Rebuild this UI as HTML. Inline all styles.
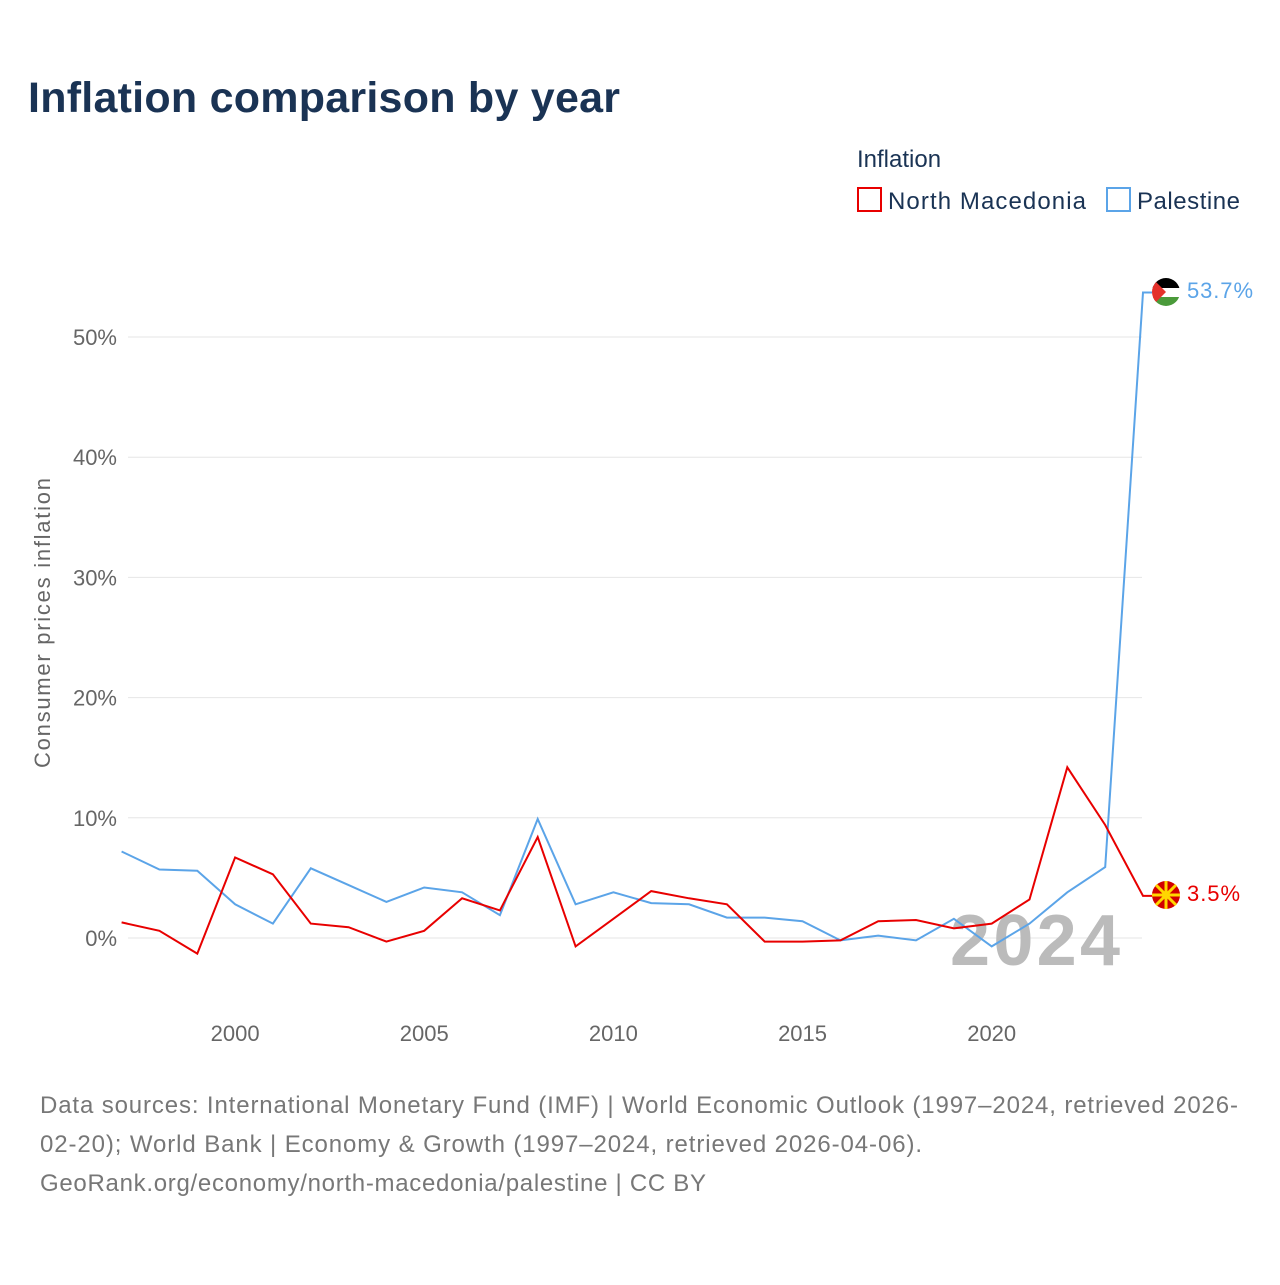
<!DOCTYPE html>
<html><head><meta charset="utf-8"><style>
body{margin:0;background:#fff;font-family:"Liberation Sans",sans-serif;}
svg text{font-family:"Liberation Sans",sans-serif;}
</style></head><body>
<svg width="1280" height="1280" viewBox="0 0 1280 1280">
<text x="28" y="112" font-size="43" font-weight="bold" fill="#1a3354" textLength="592">Inflation comparison by year</text>
<text x="857" y="167" font-size="24" fill="#1a3354">Inflation</text>
<g><rect x="858" y="188" width="23" height="23" fill="none" stroke="#e80000" stroke-width="2"/><text x="888" y="209" font-size="24" fill="#1a3354" textLength="198">North Macedonia</text></g>
<g><rect x="1107" y="188" width="23" height="23" fill="none" stroke="#5ba4e8" stroke-width="2"/><text x="1137" y="209" font-size="24" fill="#1a3354" textLength="103">Palestine</text></g>
<g id="grid"></g><g id="xt"></g>
<text transform="translate(50,623) rotate(-90)" text-anchor="middle" font-size="22" fill="#666" textLength="290">Consumer prices inflation</text>
<text x="1120" y="965" text-anchor="end" font-size="72" font-weight="bold" fill="#bbb" textLength="170">2024</text>
<g id="lines"></g>
<g><clipPath id="c1"><circle cx="1166" cy="292" r="14"/></clipPath><g clip-path="url(#c1)"><rect x="1152" y="278" width="28" height="10" fill="#000"/><rect x="1152" y="288" width="28" height="9" fill="#fff"/><rect x="1152" y="297" width="28" height="10" fill="#4a9a3a"/><polygon points="1152,278 1166,292 1152,306" fill="#e4312b"/></g></g>
<g><circle cx="1166" cy="895" r="14" fill="#d20000"/><g stroke="#ffd700" stroke-width="3"><line x1="1152" y1="895" x2="1180" y2="895"/><line x1="1166" y1="881" x2="1166" y2="909"/><line x1="1156" y1="885" x2="1176" y2="905"/><line x1="1176" y1="885" x2="1156" y2="905"/></g><circle cx="1166" cy="895" r="4" fill="#ffd700"/></g>
<text x="1187" y="298" font-size="22" fill="#5ba4e8" textLength="66">53.7%</text>
<text x="1187" y="901" font-size="22" fill="#e80000" textLength="53">3.5%</text>
<g font-size="24" fill="#777">
<text x="40" y="1113" textLength="1198">Data sources: International Monetary Fund (IMF) | World Economic Outlook (1997–2024, retrieved 2026-</text>
<text x="40" y="1152" textLength="882">02-20); World Bank | Economy &amp; Growth (1997–2024, retrieved 2026-04-06).</text>
<text x="40" y="1191" textLength="666">GeoRank.org/economy/north-macedonia/palestine | CC BY</text>
</g>
</svg>
<script>
const years=[1997,1998,1999,2000,2001,2002,2003,2004,2005,2006,2007,2008,2009,2010,2011,2012,2013,2014,2015,2016,2017,2018,2019,2020,2021,2022,2023,2024];
const macedonia=[1.3,0.6,-1.3,6.7,5.3,1.2,0.9,-0.3,0.6,3.3,2.3,8.4,-0.7,1.6,3.9,3.3,2.8,-0.3,-0.3,-0.2,1.4,1.5,0.8,1.2,3.2,14.2,9.4,3.5];
const palestine=[7.2,5.7,5.6,2.8,1.2,5.8,4.4,3.0,4.2,3.8,1.9,9.9,2.8,3.8,2.9,2.8,1.7,1.7,1.4,-0.2,0.2,-0.2,1.6,-0.7,1.2,3.8,5.9,53.7];
const yTicks=[0,10,20,30,40,50];
const xTicks=[2000,2005,2010,2015,2020];
const X=y=>121.6+(y-1997)*37.83, Y=v=>938-v*12.02;
const NS="http://www.w3.org/2000/svg";
const g=document.getElementById('grid'), xt=document.getElementById('xt'), L=document.getElementById('lines');
yTicks.forEach(t=>{
 const l=document.createElementNS(NS,'line');
 l.setAttribute('x1',128);l.setAttribute('x2',1142);l.setAttribute('y1',Y(t));l.setAttribute('y2',Y(t));l.setAttribute('stroke','#e6e6e6');
 
 
 g.appendChild(l);
 const tx=document.createElementNS(NS,'text');
 tx.setAttribute('x',117);tx.setAttribute('y',Y(t)+8);tx.setAttribute('text-anchor','end');tx.setAttribute('font-size','22');tx.setAttribute('fill','#666');
 tx.textContent=t+'%';
 
 
 g.appendChild(tx);
});
xTicks.forEach(t=>{
 const tx=document.createElementNS(NS,'text');
 tx.setAttribute('x',X(t));tx.setAttribute('y',1041);tx.setAttribute('text-anchor','middle');tx.setAttribute('font-size','22');tx.setAttribute('fill','#666');
 tx.textContent=t;
 
 
 xt.appendChild(tx);
});
function line(data,color,name){
 let d=data.map((v,i)=>(i?'L':'M')+X(years[i]).toFixed(1)+','+Y(v).toFixed(1)).join(' ');
 d+=' L'+(X(years[years.length-1])+13)+','+Y(data[data.length-1]).toFixed(1);
 const p=document.createElementNS(NS,'path');
 p.setAttribute('d',d);p.setAttribute('fill','none');p.setAttribute('stroke',color);p.setAttribute('stroke-width','2');
 
 
 L.appendChild(p);
}
line(palestine,'#5ba4e8','palestine-line');
line(macedonia,'#e80000','north-macedonia-line');
</script>
</body></html>
